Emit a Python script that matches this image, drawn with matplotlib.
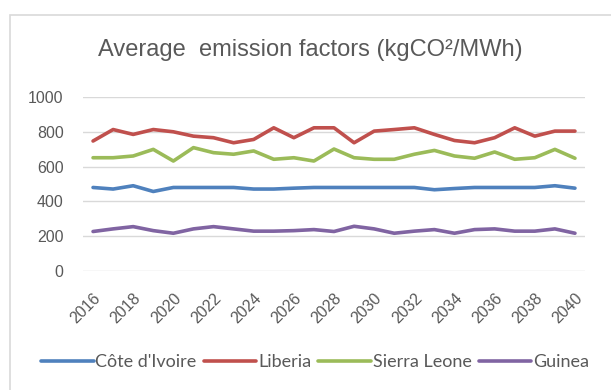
import matplotlib.pyplot as plt
from matplotlib.patches import Rectangle

# years and emission factors per country
years = list(range(2016, 2041))
cote_divoire = [480, 471, 490, 457, 480, 480, 480, 480, 471, 471, 476, 480, 480,
                480, 480, 480, 480, 467, 474, 480, 480, 480, 480, 490, 476]
liberia = [747, 813, 785, 813, 800, 775, 766, 737, 756, 823, 766, 823, 823,
           737, 804, 813, 823, 785, 750, 737, 766, 823, 775, 804, 804]
sierra_leone = [651, 651, 661, 699, 632, 709, 680, 671, 690, 642, 651, 632, 701,
                651, 642, 642, 671, 693, 661, 648, 684, 642, 651, 699, 648]
guinea = [227, 242, 255, 232, 217, 242, 255, 242, 229, 229, 232, 238, 227,
          257, 242, 217, 229, 238, 217, 238, 242, 229, 229, 242, 217]

series = [("Côte d'Ivoire", cote_divoire, "#4F81BD"),
          ("Liberia", liberia, "#C0504D"),
          ("Sierra Leone", sierra_leone, "#9BBB59"),
          ("Guinea", guinea, "#8064A2")]

W, H = 611, 390
fig = plt.figure(figsize=(W / 100, H / 100), dpi=100)
txt = "#595959"

# chart frame (cut off at right and bottom)
fig.patches.append(Rectangle((10 / W, -0.1), 1.1, 1 - 15 / H + 0.1,
                             transform=fig.transFigure, fill=False,
                             edgecolor="#D9D9D9", linewidth=1.2))

ax = fig.add_axes([83 / W, 1 - 271 / H, (585 - 83) / W, (271 - 97) / H])
for name, vals, col in series:
    ax.plot(years, vals, color=col, linewidth=2.6, label=name,
            solid_capstyle="round")

ax.set_xlim(2015.5, 2040.5)
ax.set_ylim(0, 1000)
ax.set_yticks(range(0, 1001, 200))
ax.set_xticks(years[::2])
ax.set_xticklabels([str(y) for y in years[::2]], rotation=45, ha="right",
                   rotation_mode="anchor")
ax.grid(axis="y", color="#D9D9D9", linewidth=1)
ax.set_axisbelow(True)
for s in ax.spines.values():
    s.set_visible(False)
ax.tick_params(length=0, labelsize=11.5, colors=txt)
ax.tick_params(axis="x", pad=14)
ax.tick_params(axis="y", pad=14)
for lab in ax.get_xticklabels() + ax.get_yticklabels():
    lab.set_family("Liberation Sans")

fig.text(310 / W, 1 - 50 / H, "Average  emission factors (kgCO²/MWh)",
         ha="center", va="center", fontsize=17, color=txt,
         family="Liberation Sans")

leg = fig.legend(loc="center", bbox_to_anchor=(315 / W, 1 - 362 / H), ncol=4,
                 frameon=False, handlelength=2.9,
                 handletextpad=0.1, columnspacing=0.4,
                 prop={"family": "Lato", "size": 13})
for t in leg.get_texts():
    t.set_color(txt)

fig.savefig("out.png", dpi=100)
